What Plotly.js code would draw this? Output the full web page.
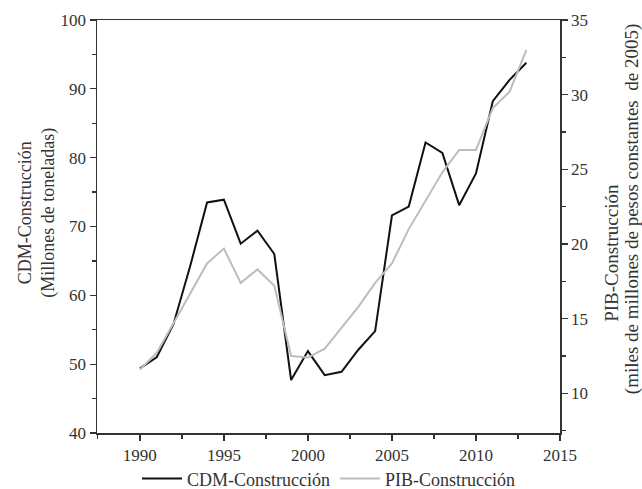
<!DOCTYPE html>
<html>
<head>
<meta charset="utf-8">
<script src="https://cdn.plot.ly/plotly-3.0.1.min.js"></script>
<style>html,body{margin:0;padding:0;background:#fff;}#chart{width:642px;height:489px;}</style>
</head>
<body>
<div id="chart"></div>
<script>
const years = [1990,1991,1992,1993,1994,1995,1996,1997,1998,1999,2000,2001,2002,2003,2004,2005,2006,2007,2008,2009,2010,2011,2012,2013];
const cdmConstruccion = [49.4,51.0,55.8,64.3,73.5,73.9,67.5,69.4,66.0,47.7,51.9,48.4,48.9,52.1,54.8,71.6,72.9,82.2,80.7,73.1,77.7,88.2,91.3,93.8];
const pibConstruccion = [11.6,12.7,14.7,16.7,18.7,19.7,17.4,18.3,17.2,12.5,12.4,13.0,14.4,15.8,17.4,18.7,21.0,22.9,24.8,26.3,26.3,29.1,30.2,33.0];
const seriesNames = ["CDM-Construcción","PIB-Construcción"];
const leftTitle = ["CDM-Construcción","(Millones de toneladas)"];
const rightTitle = ["PIB-Construcción","(miles de millones de pesos constantes  de 2005)"];

const FONT = "Liberation Serif, Times New Roman, serif";
const TXT = "#333";
const AX = "#333";

const traces = [
  {x: years, y: cdmConstruccion, name: seriesNames[0], type: "scatter", mode: "lines",
   line: {color: "#111", width: 2}, yaxis: "y"},
  {x: years, y: pibConstruccion, name: seriesNames[1], type: "scatter", mode: "lines",
   line: {color: "#bdbdbd", width: 2}, yaxis: "y2"}
];

const layout = {
  width: 642, height: 489,
  margin: {l: 97, r: 82, t: 20, b: 56, autoexpand: false},
  paper_bgcolor: "#fff", plot_bgcolor: "#fff",
  font: {family: FONT, size: 17, color: TXT},
  showlegend: true,
  legend: {orientation: "h", x: 0.5, xanchor: "center", y: -0.111, yanchor: "middle",
           font: {family: FONT, size: 18, color: TXT}, bgcolor: "rgba(0,0,0,0)", itemwidth: 40},
  xaxis: {range: [1987.45, 2015], tick0: 1990, dtick: 5, ticks: "outside", ticklen: 6, tickwidth: 1.3,
          tickcolor: AX, showline: true, linecolor: AX, linewidth: 1.5, mirror: true,
          showgrid: false, zeroline: false, tickfont: {family: FONT, size: 17, color: TXT},
          minor: {dtick: 2.5, tick0: 1990, ticks: "outside", ticklen: 4, tickcolor: AX, showgrid: false}},
  yaxis: {range: [40, 100], dtick: 10, ticks: "outside", ticklen: 6, tickwidth: 1.3, tickcolor: AX,
          showline: true, linecolor: AX, linewidth: 1.5, showgrid: false, zeroline: false,
          tickfont: {family: FONT, size: 17, color: TXT},
          minor: {dtick: 5, ticks: "outside", ticklen: 4, tickcolor: AX, showgrid: false}},
  yaxis2: {overlaying: "y", side: "right", range: [7.35, 35], tick0: 10, dtick: 5, ticks: "outside",
           ticklen: 6, tickwidth: 1.3, tickcolor: AX, showline: true, linecolor: AX, linewidth: 1.5,
           showgrid: false, zeroline: false, tickfont: {family: FONT, size: 17, color: TXT},
           minor: {tick0: 10, dtick: 2.5, ticks: "outside", ticklen: 4, tickcolor: AX, showgrid: false}},
  annotations: [
    {xref: "paper", yref: "paper", x: -0.13, y: 0.533, xanchor: "center", yanchor: "middle",
     text: leftTitle.join("<br>"), textangle: -90, showarrow: false,
     font: {family: FONT, size: 18, color: TXT}},
    {xref: "paper", yref: "paper", x: 1.112, y: 0.436, xanchor: "center", yanchor: "middle",
     text: rightTitle[0], textangle: -90, showarrow: false,
     font: {family: FONT, size: 19, color: TXT}},
    {xref: "paper", yref: "paper", x: 1.1555, y: 0.542, xanchor: "center", yanchor: "middle",
     text: rightTitle[1], textangle: -90, showarrow: false,
     font: {family: FONT, size: 19, color: TXT}}
  ]
};

Plotly.newPlot("chart", traces, layout, {displayModeBar: false, staticPlot: true});
</script>
</body>
</html>
